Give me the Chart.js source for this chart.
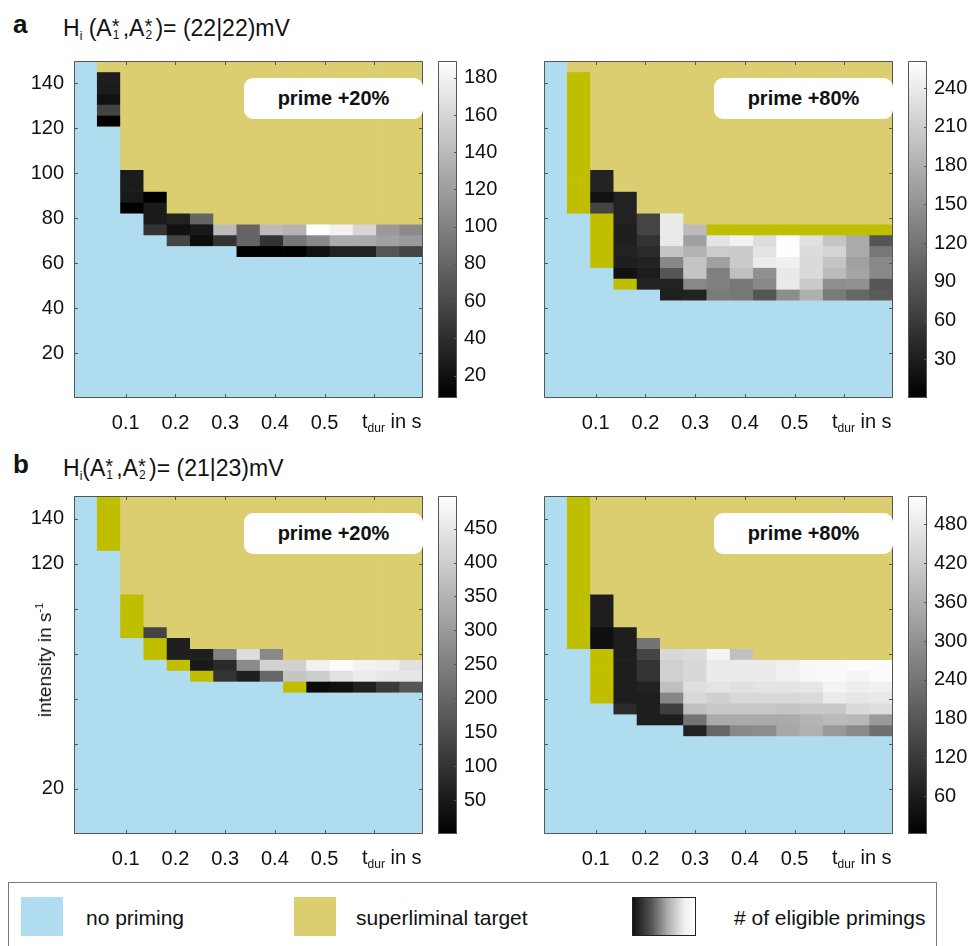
<!DOCTYPE html>
<html>
<head>
<meta charset="utf-8">
<script src="https://cdn.jsdelivr.net/npm/chart.js@4.4.1/dist/chart.umd.min.js"></script>
<style>
  body { margin: 0; width: 969px; height: 946px; position: relative; overflow: hidden; background: #fff;
         font-family: "Liberation Sans", Arial, sans-serif; color: #111; }
  canvas { position: absolute; }
  .t { position: absolute; white-space: nowrap; font-size: 20px; line-height: 20px; }
  .ttl { position: absolute; white-space: nowrap; font-size: 23px; line-height: 23px; }
  .lab { position: absolute; font-weight: bold; font-size: 26px; line-height: 26px; }
  .ss { display: inline-block; position: relative; width: 11px; height: 23px; vertical-align: top; }
  .ss .up { position: absolute; left: 0; top: -2px; font-size: 20px; }
  .ss .dn { position: absolute; left: 1px; top: 12px; font-size: 12px; line-height: 12px; }
  .sub { font-size: 12px; position: relative; top: 4px; }
  .prime { position: absolute; width: 179px; height: 41px; background: #fff; border-radius: 9px;
           font-weight: bold; font-size: 20px; line-height: 41px; text-align: center; }
  .legend { position: absolute; left: 8px; top: 882px; width: 927px; height: 80px; border: 1px solid #777; }
  .sw { position: absolute; top: 14px; width: 42px; height: 39px; }
  .lt { position: absolute; top: 24px; font-size: 21px; line-height: 21px; white-space: nowrap; }
</style>
</head>
<body>

<div class="lab" style="left:13px;top:11px">a</div>
<div class="ttl" style="left:63px;top:17px">H<span class="sub">i</span> (A<span class="ss"><span class="up">*</span><span class="dn">1</span></span>,A<span class="ss"><span class="up">*</span><span class="dn">2</span></span>)= (22|22)mV</div>
<div class="lab" style="left:13px;top:451px">b</div>
<div class="ttl" style="left:63px;top:457px">H<span class="sub">i</span>(A<span class="ss"><span class="up">*</span><span class="dn">1</span></span>,A<span class="ss"><span class="up">*</span><span class="dn">2</span></span>)= (21|23)mV</div>

<canvas id="hA20"></canvas><canvas id="cA20"></canvas>
<canvas id="hA80"></canvas><canvas id="cA80"></canvas>
<canvas id="hB20"></canvas><canvas id="cB20"></canvas>
<canvas id="hB80"></canvas><canvas id="cB80"></canvas>

<div class="prime" style="left:244px;top:78px">prime +20%</div>
<div class="prime" style="left:714px;top:78px">prime +80%</div>
<div class="prime" style="left:244px;top:513px">prime +20%</div>
<div class="prime" style="left:714px;top:513px">prime +80%</div>

<div class="t" style="left:362px;top:411px">t<span class="sub">dur</span> in s</div>
<div class="t" style="left:832px;top:411px">t<span class="sub">dur</span> in s</div>
<div class="t" style="left:362px;top:847px">t<span class="sub">dur</span> in s</div>
<div class="t" style="left:832px;top:847px">t<span class="sub">dur</span> in s</div>

<div class="t" style="left:46px;top:660px;font-size:19px;transform:translate(-50%,-50%) rotate(-90deg)">intensity in s<span style="font-size:11px;position:relative;top:-8px">-1</span></div>

<div class="legend">
  <div class="sw" style="left:12px;background:#b0dcf0"></div>
  <div class="lt" style="left:77px">no priming</div>
  <div class="sw" style="left:285px;background:#dbce70"></div>
  <div class="lt" style="left:347px">superliminal target</div>
  <div class="sw" style="left:623px;width:64px;box-sizing:border-box;border:1px solid #222;background:linear-gradient(to right,#111 0%,#555 30%,#aaa 55%,#eee 82%,#fff 100%)"></div>
  <div class="lt" style="left:725px"># of eligible primings</div>
</div>

<script>
// t_dur column centres (s) and intensity rows (s^-1)
const tDur = [0.0194, 0.0662, 0.1130, 0.1598, 0.2066, 0.2534, 0.3002, 0.3470, 0.3938, 0.4406, 0.4874, 0.5342, 0.5810, 0.6278, 0.6746];
const nRows = 31;
const rowStep = 150 / nRows;

const xTicks = [0.1, 0.2, 0.3, 0.4, 0.5, 0.6];
const xTickLabels = ['0.1', '0.2', '0.3', '0.4', '0.5', ''];
const yTicks = [20, 40, 60, 80, 100, 120, 140];
const yLabelsA = ['20', '40', '60', '80', '100', '120', '140'];
const yLabelsB = ['20', '', '', '', '', '120', '140'];
const yLabelsNone = ['', '', '', '', '', '', ''];

// per column: rows of "no priming" counted from the bottom,
// then # of eligible primings going up (null = olive cell), the rest is superliminal
const blueA20 = [31, 25, 17, 15, 14, 14, 14, 13, 13, 13, 13, 13, 13, 13, 13];
const countsA20 = [
  [], [8, 56, 20, 28, 29], [8, 26, 27, 27], [44, 27, 27, 8], [56, 20, 32], [17, 26, 80], [44, 141],
  [8, 80, 80], [8, 44, 141], [8, 92, 135], [20, 105, 189], [32, 129, 180], [32, 129, 160],
  [68, 122, 117], [56, 117, 106]
];

const blueA80 = [31, 17, 12, 10, 10, 9, 9, 9, 9, 9, 9, 9, 9, 9, 9];
const countsA80 = [
  [],
  [null, null, null, null, null, null, null, null, null, null, null, null, null],
  [null, null, null, null, null, 70, 17, 35, 35],
  [null, 17, 32, 35, 32, 32, 35, 35, 35],
  [35, 29, 35, 43, 52, 70, 70],
  [32, 35, 87, 139, 201, 238, 240, 240],
  [35, 139, 201, 201, 183, 164, 191],
  [125, 131, 131, 164, 209, 233, null],
  [122, 122, 197, 208, 208, 248, null],
  [87, 139, 147, 242, 233, 226, null],
  [144, 240, 238, 246, 260, 259, null],
  [179, 207, 223, 223, 225, 229, null],
  [125, 145, 191, 201, 217, 201, null],
  [104, 147, 168, 164, 174, 174, null],
  [92, 87, 139, 139, 122, 87, null]
];

const blueB20 = [31, 26, 18, 16, 15, 14, 14, 14, 14, 13, 13, 13, 13, 13, 13];
const countsB20 = [
  [], [null, null, null, null, null], [null, null, null, null], [null, null, 133], [null, 61, 61],
  [null, 51, 61], [100, 82, 251], [61, 271, 431], [200, 408, 267], [null, 384, 408],
  [20, 400, 471], [29, 439, 492], [61, 461, 475], [114, 451, 467], [167, 451, 439]
];

const blueB80 = [31, 17, 12, 11, 10, 10, 9, 9, 9, 9, 9, 9, 9, 9, 9];
const countsB80 = [
  [],
  [null, null, null, null, null, null, null, null, null, null, null, null, null, null],
  [null, null, null, null, null, 33, 33, 63, 63, 63],
  [88, 63, 63, 63, 63, 63, 63, 63],
  [63, 63, 63, 72, 106, 106, 141, 240],
  [63, 129, 278, 395, 428, 428, 444],
  [72, 240, 395, 444, 458, 444, 444, 452],
  [211, 350, 411, 428, 469, 483, 483, 501],
  [280, 350, 411, 444, 460, 483, 483, 395],
  [289, 350, 411, 444, 469, 483, 483],
  [346, 350, 403, 444, 469, 493, 493],
  [362, 370, 411, 448, 473, 510, 510],
  [315, 385, 411, 483, 501, 514, 514],
  [284, 379, 448, 473, 489, 501, 518],
  [231, 315, 454, 477, 493, 518, 518]
];

// colour bar limits and ticks
const climA20 = [8, 189];
const cbTicksA20 = [20, 40, 60, 80, 100, 120, 140, 160, 180];
const climA80 = [0, 261];
const cbTicksA80 = [30, 60, 90, 120, 150, 180, 210, 240];
const climB20 = [0, 498];
const cbTicksB20 = [50, 100, 150, 200, 250, 300, 350, 400, 450];
const climB80 = [2, 524];
const cbTicksB80 = [60, 120, 180, 240, 300, 360, 420, 480];

const BLUE = '#b0dcf0';
const YELLOW = '#dbce70';
const OLIVE = '#bfbf00';

Chart.defaults.font.family = '"Liberation Sans", Arial, sans-serif';
Chart.defaults.font.size = 20;
Chart.defaults.color = '#111';

function gray(v, lim) {
  let g = Math.round(255 * (v - lim[0]) / (lim[1] - lim[0]));
  g = Math.max(0, Math.min(255, g));
  return 'rgb(' + g + ',' + g + ',' + g + ')';
}

function buildCells(blue, counts, lim) {
  const cells = [];
  tDur.forEach((t, c) => {
    let row = blue[c];
    cells.push({ x: t, y: [0, row * rowStep], col: BLUE });
    counts[c].forEach(v => {
      cells.push({ x: t, y: [row * rowStep, (row + 1) * rowStep], col: v === null ? OLIVE : gray(v, lim) });
      row++;
    });
    if (row < nRows) cells.push({ x: t, y: [row * rowStep, nRows * rowStep], col: YELLOW });
  });
  return cells;
}

// axis box and inward tick marks, matlab style
const framePlugin = {
  id: 'frame',
  afterDatasetsDraw(chart, args, opts) {
    const ctx = chart.ctx, a = chart.chartArea, len = 4;
    ctx.save();
    ctx.strokeStyle = '#555';
    ctx.lineWidth = 1;
    ctx.beginPath();
    ctx.rect(a.left + 0.5, a.top + 0.5, a.width - 1, a.height - 1);
    if (opts.xy) {
      chart.scales.x.ticks.forEach(t => {
        const px = Math.round(chart.scales.x.getPixelForValue(t.value)) + 0.5;
        ctx.moveTo(px, a.bottom); ctx.lineTo(px, a.bottom - len);
        ctx.moveTo(px, a.top); ctx.lineTo(px, a.top + len);
      });
      chart.scales.y.ticks.forEach(t => {
        const py = Math.round(chart.scales.y.getPixelForValue(t.value)) + 0.5;
        ctx.moveTo(a.left, py); ctx.lineTo(a.left + len, py);
        ctx.moveTo(a.right, py); ctx.lineTo(a.right - len, py);
      });
    }
    if (opts.cb) {
      chart.scales.y.ticks.forEach(t => {
        const py = Math.round(chart.scales.y.getPixelForValue(t.value)) + 0.5;
        ctx.moveTo(a.right, py); ctx.lineTo(a.right - 3, py);
      });
    }
    ctx.stroke();
    ctx.restore();
  }
};

function placeCanvas(canvas, left, top, w, h) {
  canvas.width = w; canvas.height = h;
  canvas.style.left = left + 'px'; canvas.style.top = top + 'px';
  canvas.style.width = w + 'px'; canvas.style.height = h + 'px';
}

function noPad(s) {
  s.paddingTop = 0; s.paddingBottom = 0; s.paddingLeft = 0; s.paddingRight = 0;
}

function heatmap(id, box, cells, yLabels) {
  const canvas = document.getElementById(id);
  const padL = 72, padT = 6, padR = 4, padB = 40;
  placeCanvas(canvas, box[0] - padL, box[1] - padT, box[2] - box[0] + padL + padR, box[3] - box[1] + padT + padB);
  return new Chart(canvas, {
    type: 'bar',
    data: {
      datasets: [{
        data: cells,
        backgroundColor: c => (c.raw ? c.raw.col : BLUE),
        borderWidth: 0,
        barPercentage: 1,
        categoryPercentage: 1
      }]
    },
    options: {
      responsive: false,
      animation: false,
      layout: { padding: { top: padT, right: padR, left: 0, bottom: 0 } },
      plugins: { legend: { display: false }, tooltip: { enabled: false }, frame: { xy: true } },
      scales: {
        x: {
          type: 'linear', min: -0.004, max: 0.698, offset: false,
          grid: { display: false, drawTicks: false }, border: { display: false },
          afterBuildTicks: ax => { ax.ticks = xTicks.map(v => ({ value: v })); },
          ticks: { autoSkip: false, maxRotation: 0, padding: 13, callback: (v, i) => xTickLabels[i] },
          afterFit: s => { s.height = padB; noPad(s); }
        },
        y: {
          type: 'linear', min: 0, max: 150,
          grid: { display: false, drawTicks: false }, border: { display: false },
          afterBuildTicks: ax => { ax.ticks = yTicks.map(v => ({ value: v })); },
          ticks: { autoSkip: false, padding: 10, callback: (v, i) => yLabels[i] },
          afterFit: s => { s.width = padL; noPad(s); }
        }
      }
    },
    plugins: [framePlugin]
  });
}

function colorbar(id, box, lim, ticks) {
  const canvas = document.getElementById(id);
  const padT = 12, padB = 12, axisW = 50;
  placeCanvas(canvas, box[0], box[1] - padT, box[2] - box[0] + axisW, box[3] - box[1] + padT + padB);
  return new Chart(canvas, {
    type: 'bar',
    data: {
      labels: [''],
      datasets: [{
        data: [lim],
        backgroundColor: c => {
          const a = c.chart.chartArea;
          if (!a) return '#888';
          const g = c.chart.ctx.createLinearGradient(0, a.bottom, 0, a.top);
          g.addColorStop(0, '#000');
          g.addColorStop(1, '#fff');
          return g;
        },
        borderWidth: 0,
        barPercentage: 1,
        categoryPercentage: 1
      }]
    },
    options: {
      responsive: false,
      animation: false,
      layout: { padding: { top: padT, bottom: padB, left: 0, right: 0 } },
      plugins: { legend: { display: false }, tooltip: { enabled: false }, frame: { cb: true } },
      scales: {
        x: { display: false },
        y: {
          position: 'right', min: lim[0], max: lim[1],
          grid: { display: false, drawTicks: false }, border: { display: false },
          afterBuildTicks: ax => { ax.ticks = ticks.map(v => ({ value: v })); },
          ticks: { autoSkip: false, padding: 7, callback: v => String(v) },
          afterFit: s => { s.width = axisW; noPad(s); }
        }
      }
    },
    plugins: [framePlugin]
  });
}

heatmap('hA20', [74, 61, 423, 398], buildCells(blueA20, countsA20, climA20), yLabelsA);
colorbar('cA20', [438, 61, 457, 398], climA20, cbTicksA20);
heatmap('hA80', [544, 61, 893, 398], buildCells(blueA80, countsA80, climA80), yLabelsNone);
colorbar('cA80', [908, 61, 927, 398], climA80, cbTicksA80);
heatmap('hB20', [74, 496, 423, 834], buildCells(blueB20, countsB20, climB20), yLabelsB);
colorbar('cB20', [438, 496, 457, 834], climB20, cbTicksB20);
heatmap('hB80', [544, 496, 893, 834], buildCells(blueB80, countsB80, climB80), yLabelsNone);
colorbar('cB80', [908, 496, 927, 834], climB80, cbTicksB80);
</script>
</body>
</html>
